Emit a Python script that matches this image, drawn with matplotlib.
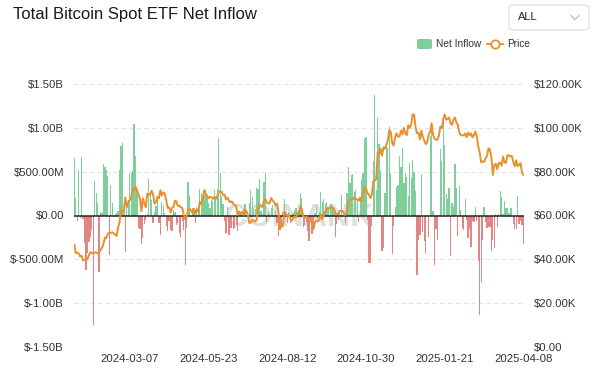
import pandas as pd
import matplotlib
matplotlib.use("Agg")
import matplotlib.pyplot as plt
from matplotlib.patches import FancyBboxPatch
from matplotlib.lines import Line2D

plt.rcParams["font.family"] = ["Liberation Sans", "DejaVu Sans"]

# daily net flow, $M, one value per trading day
flow_jan24 = [655, 203, -60, 520, -30, 670, -40, -310, -620, -430, -300, -250, -170, -1250]
flow_feb24 = [390, 260, 140, -650, 40, 30, 590, 550, 520, 450, -450, 350, 140, -20, 20, 30, 50, 520, 790, 830]
flow_mar24 = [60, -420, 100, 180, 470, 480, 505, 1045, 684, 300, -139, -154, -326, -261, -94, -53, 15, 418, 243, 179]
flow_apr24 = [-86, 40, 113, 213, -84, -220, 150, 120, 30, -125, -180, -60, -165, -180, 60, 40, -107, -88, -200, -240, -60, -162]
flow_may24 = [-564, -145, 378, 217, -20, 80, 65, -84, 100, 100, 303, 257, 222, 237, 305, 217, 140, 84, 179, 160, 293, 217]
flow_jun24 = [302, 887, 488, 218, 131, -65, -200, 100, -226, -140, -146, -153, -140, -106, -175, 31, 21, 12, 73]
flow_jul24 = [129, -13, -20, 143, 295, 216, 78, 73, 310, 301, 422, 53, 19, 384, 486, -78, 44, 31, 87, 124, -18, 50]
flow_aug24 = [-80, -237, -168, -148, 45, 193, 28, -84, 39, -81, 11, 33, 62, 88, 39, 65, 252, 202, -127, -105, -71, -175]
flow_sep24 = [-288, -38, -212, -169, 28, 117, -43, 39, 263, 150, 187, 130, 158, 93, -20, 136, 106, 62]
flow_oct24 = [-242, -92, -55, 25, 236, -18, -3, -81, 253, 556, 371, 458, 470, 273, 294, 192, -79, 188, 402, 480, 870, 893, -54]
flow_nov24 = [-545, -541, -116, 622, 1376, 294, 1114, 817, 510, -400, -370, 255, 837, 773, 1004, 490, -438, -122, 93, 320]
flow_dec24 = [353, 676, 556, 766, 376, 480, 439, 224, 597, 428, 637, 493, 275, -680, -277, -226, 475, -183, -288, -426, 5]
flow_jan25 = [-242, 908, 978, 52, -568, -149, -284, 2, 753, 626, 1072, 802, 248, 188, 318, -458, 145, 100, 588, 318]
flow_feb25 = [-235, 341, 66, -140, -171, 186, -56, -251, -156, -364, -61, -71, 94, -64, -516, -1138, -755, -276, 94]
flow_mar25 = [-74, -143, -130, -135, -410, -280, -371, 13, -135, 13, 275, 209, 12, 165, 83, 84, 27, 90, 89, -93, -150]
flow_apr25 = [-157, 220, -100, -64, -103, -326]

# BTC price, $K
price_jan24 = [46.6, 42.8, 43.1, 42.7, 41.3, 41.6, 39.5, 39.8, 40.1, 40.0, 41.8, 43.3, 42.9, 42.6]
price_feb24 = [43.1, 43.2, 42.7, 43.1, 44.3, 45.3, 47.1, 50.0, 49.7, 51.8, 52.0, 52.1, 52.3, 51.8, 51.3, 50.7, 54.5, 57.0, 62.5, 61.2]
price_mar24 = [62.4, 68.3, 63.8, 66.1, 66.9, 68.3, 72.1, 71.5, 73.1, 71.4, 69.5, 67.6, 61.9, 67.9, 65.5, 63.8, 69.9, 69.9, 69.5, 71.3]
price_apr24 = [69.7, 65.5, 66.0, 68.5, 67.8, 71.6, 69.1, 70.6, 70.0, 67.1, 63.4, 63.8, 61.3, 63.5, 63.8, 66.8, 66.4, 64.3, 64.5, 63.8, 63.4, 60.6]
price_may24 = [58.2, 59.1, 62.9, 63.1, 62.3, 61.2, 63.1, 60.8, 62.9, 61.6, 66.3, 65.2, 67.0, 71.4, 70.1, 69.1, 67.9, 68.5, 68.4, 67.6, 68.4, 67.5]
price_jun24 = [68.8, 70.6, 71.1, 70.8, 69.3, 69.5, 67.3, 68.2, 66.8, 66.0, 66.5, 65.2, 64.9, 64.1, 60.3, 61.8, 60.9, 61.6, 60.3]
price_jul24 = [62.7, 62.0, 60.2, 56.6, 56.7, 58.0, 57.7, 57.3, 57.9, 62.9, 65.1, 64.2, 63.9, 66.7, 67.6, 65.9, 65.4, 65.8, 68.0, 66.8, 66.2, 64.6]
price_aug24 = [65.4, 61.5, 54.0, 56.0, 55.1, 61.7, 60.9, 59.4, 60.6, 58.7, 57.5, 58.9, 59.5, 59.0, 61.2, 60.4, 64.1, 62.9, 59.5, 59.0, 59.4, 59.1]
price_sep24 = [57.5, 57.9, 56.2, 53.9, 57.0, 57.6, 57.3, 58.1, 60.5, 58.2, 60.3, 61.8, 62.9, 63.2, 63.3, 64.3, 63.1, 63.3]
price_oct24 = [60.8, 60.6, 60.7, 62.1, 62.2, 62.1, 60.6, 60.3, 62.4, 66.0, 67.1, 67.6, 67.4, 68.4, 67.4, 67.4, 66.7, 68.2, 66.6, 69.9, 72.7, 72.3, 70.2]
price_nov24 = [69.5, 68.0, 69.4, 75.6, 75.9, 76.5, 88.7, 88.0, 90.5, 87.3, 91.1, 90.5, 92.3, 94.3, 98.9, 98.0, 93.0, 91.9, 95.9, 97.5]
price_dec24 = [95.9, 96.0, 98.8, 97.0, 99.9, 97.4, 96.7, 101.2, 100.0, 101.5, 106.1, 106.1, 100.2, 97.5, 97.8, 94.7, 98.7, 95.8, 94.2, 92.6, 93.4]
price_jan25 = [97.0, 98.1, 102.1, 96.9, 95.0, 94.6, 94.5, 96.5, 100.5, 99.9, 104.1, 106.1, 103.7, 104.0, 104.7, 102.1, 101.3, 103.7, 104.7, 102.4]
price_feb25 = [101.4, 97.9, 96.6, 96.6, 96.5, 97.4, 95.7, 97.8, 96.6, 97.5, 95.7, 96.6, 98.3, 96.1, 91.4, 88.7, 84.3, 84.7, 84.4]
price_mar25 = [86.2, 87.2, 90.6, 89.9, 86.7, 78.5, 82.9, 83.7, 81.1, 83.9, 84.1, 82.7, 86.9, 84.2, 84.0, 87.5, 87.4, 86.9, 87.2, 84.4, 82.5]
price_apr25 = [85.2, 82.5, 83.1, 83.8, 79.6, 78.6]

holidays = ["2024-01-15", "2024-02-19", "2024-03-29", "2024-05-27", "2024-06-19", "2024-07-04",
            "2024-09-02", "2024-11-28", "2024-12-25", "2025-01-01", "2025-01-09", "2025-01-20",
            "2025-02-17"]
missing_days = ["2024-09-26", "2024-09-27"]  # not in the source feed
tick_dates = ["2024-03-07", "2024-05-23", "2024-08-12", "2024-10-30", "2025-01-21", "2025-04-08"]

left_ticks = [-1500, -1000, -500, 0, 500, 1000, 1500]
left_labels = ["$-1.50B", "$-1.00B", "$-500.00M", "$0.00", "$500.00M", "$1.00B", "$1.50B"]
right_ticks = [0, 20, 40, 60, 80, 100, 120]
right_labels = ["$0.00", "$20.00K", "$40.00K", "$60.00K", "$80.00K", "$100.00K", "$120.00K"]

flows = (flow_jan24 + flow_feb24 + flow_mar24 + flow_apr24 + flow_may24 + flow_jun24 + flow_jul24
         + flow_aug24 + flow_sep24 + flow_oct24 + flow_nov24 + flow_dec24 + flow_jan25 + flow_feb25
         + flow_mar25 + flow_apr25)
prices = (price_jan24 + price_feb24 + price_mar24 + price_apr24 + price_may24 + price_jun24
          + price_jul24 + price_aug24 + price_sep24 + price_oct24 + price_nov24 + price_dec24
          + price_jan25 + price_feb25 + price_mar25 + price_apr25)

dates = pd.bdate_range("2024-01-11", "2025-04-08", freq="C", holidays=holidays)
dates = dates.drop(pd.to_datetime(missing_days))
df = pd.DataFrame({"flow": flows, "price": prices}, index=dates)
x = list(range(len(df)))

GREEN = "#7fcf9c"
RED = "#e38585"
ORANGE = "#e8912c"
TXT = "#333333"
GRID = "#e3e3e3"

W, H = 600, 369
fig = plt.figure(figsize=(W / 100, H / 100), dpi=100)
ax = fig.add_axes([73.6 / W, 1 - 347 / H, (524.2 - 73.6) / W, (347 - 84) / H])

colors = [GREEN if v >= 0 else RED for v in df["flow"]]
ax.bar(x, df["flow"], width=0.85, color=colors, zorder=2, linewidth=0)
ax.set_xlim(-0.5, len(df) - 0.5)
ax.set_ylim(-1500, 1500)
ax.set_yticks(left_ticks)
ax.set_yticklabels(left_labels)
for t in left_ticks:
    if t != 0:
        ax.axhline(t, color=GRID, lw=0.8, ls=(0, (4, 3)), zorder=0)
ax.axhline(0, color="#222222", lw=1.1, zorder=3)

pos = df.index.get_indexer(pd.to_datetime(tick_dates))
ax.set_xticks(pos)
ax.set_xticklabels(tick_dates)
ax.tick_params(axis="both", length=0, labelsize=8.2, colors=TXT)
ax.tick_params(axis="y", pad=7)
ax.tick_params(axis="x", pad=5)
for s in ax.spines.values():
    s.set_visible(False)

# faint watermark
ax.text(0.5, 0.49, "COINANK", transform=ax.transAxes, fontsize=23, fontweight="bold",
        color="#dfdfdf", ha="center", va="center", zorder=0.5)

ax2 = ax.twinx()
ax2.plot(x, df["price"], color=ORANGE, lw=1.4, zorder=4)
ax2.set_ylim(0, 120)
ax2.set_yticks(right_ticks)
ax2.set_yticklabels(right_labels)
ax2.tick_params(axis="y", length=0, labelsize=8.2, colors=TXT, pad=7)
for s in ax2.spines.values():
    s.set_visible(False)

# title and header controls
fig.text(13 / W, 1 - 14 / H, "Total Bitcoin Spot ETF Net Inflow", fontsize=12,
         color="#1a1a1a", ha="left", va="center")
box = FancyBboxPatch((509 / W, 1 - 30 / H), 80 / W, 25 / H, transform=fig.transFigure,
                     boxstyle="round,pad=0,rounding_size=0.008", fc="white", ec="#dcdcdc", lw=0.8)
fig.patches.append(box)
fig.text(518 / W, 1 - 17.5 / H, "ALL", fontsize=8, color="#222222", ha="left", va="center")
fig.lines.append(Line2D([571 / W, 575 / W, 579 / W], [1 - 15.5 / H, 1 - 19.5 / H, 1 - 15.5 / H],
                        transform=fig.transFigure, color="#b5b5b5", lw=0.8))

# legend
leg_box = FancyBboxPatch((417 / W, 1 - 49 / H), 15 / W, 10 / H, transform=fig.transFigure,
                         boxstyle="round,pad=0,rounding_size=0.004", fc=GREEN, ec="none")
fig.patches.append(leg_box)
fig.text(436 / W, 1 - 44 / H, "Net Inflow", fontsize=7.3, color=TXT, ha="left", va="center")
fig.lines.append(Line2D([487 / W, 503 / W], [1 - 44 / H, 1 - 44 / H], transform=fig.transFigure,
                        color=ORANGE, lw=1.3))
fig.lines.append(Line2D([495 / W], [1 - 44 / H], transform=fig.transFigure, marker="o",
                        markersize=6, markerfacecolor="white", markeredgecolor=ORANGE,
                        markeredgewidth=1.3, color=ORANGE))
fig.text(507 / W, 1 - 44 / H, "Price", fontsize=7.3, color=TXT, ha="left", va="center")

fig.savefig("out.png", dpi=100, facecolor="white")
